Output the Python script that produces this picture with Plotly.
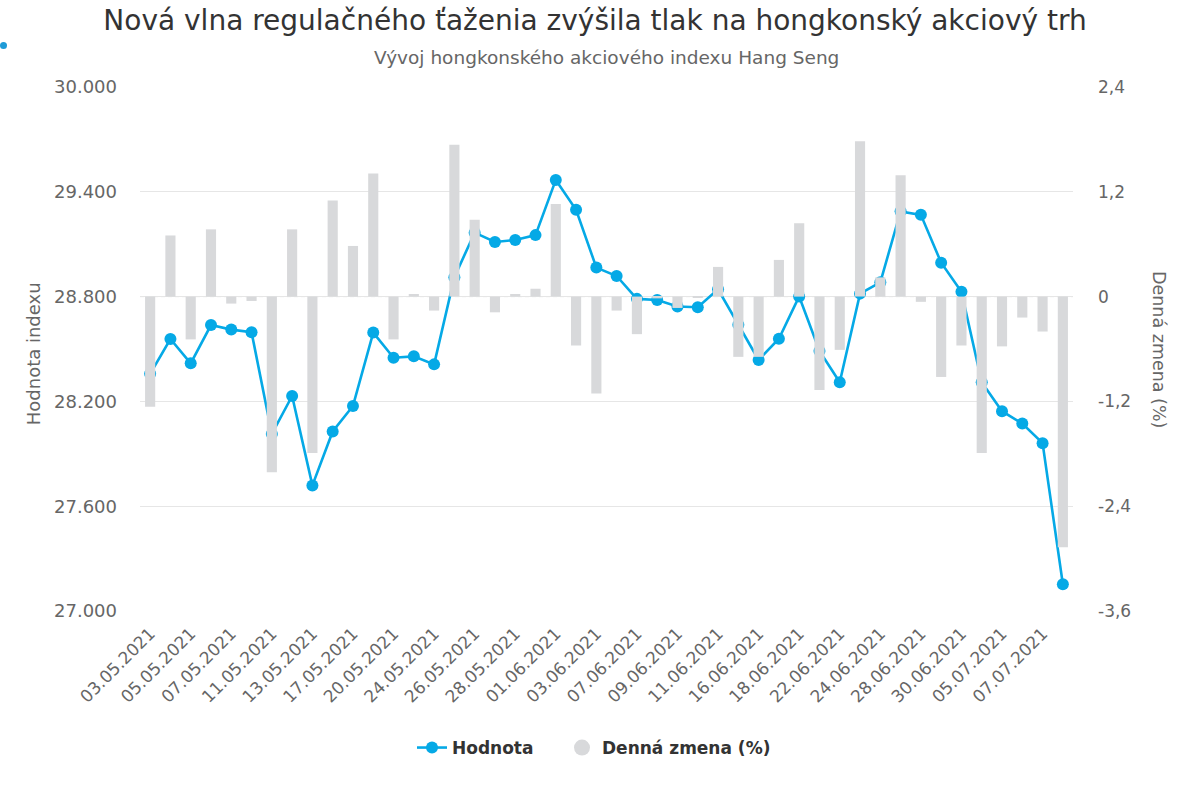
import plotly.graph_objects as go

categories = [
    "03.05.2021", "04.05.2021", "05.05.2021", "06.05.2021", "07.05.2021", "10.05.2021",
    "11.05.2021", "12.05.2021", "13.05.2021", "14.05.2021", "17.05.2021", "18.05.2021",
    "20.05.2021", "21.05.2021", "24.05.2021", "25.05.2021", "26.05.2021", "27.05.2021",
    "28.05.2021", "31.05.2021", "01.06.2021", "02.06.2021", "03.06.2021", "04.06.2021",
    "07.06.2021", "08.06.2021", "09.06.2021", "10.06.2021", "11.06.2021", "15.06.2021",
    "16.06.2021", "17.06.2021", "18.06.2021", "21.06.2021", "22.06.2021", "23.06.2021",
    "24.06.2021", "25.06.2021", "28.06.2021", "29.06.2021", "30.06.2021", "02.07.2021",
    "05.07.2021", "06.07.2021", "07.07.2021", "08.07.2021",
]

hodnota = [
    28358, 28557, 28418, 28637, 28611, 28596, 28014, 28231, 27719, 28028, 28174, 28594,
    28450, 28458, 28412, 28911, 29166, 29113, 29124, 29152, 29468, 29297, 28966, 28918,
    28787, 28781, 28743, 28739, 28842, 28639, 28437, 28559, 28801, 28489, 28310, 28817,
    28882, 29288, 29268, 28994, 28828, 28310, 28144, 28073, 27961, 27153,
]

denna_zmena = [
    -1.26, 0.70, -0.49, 0.77, -0.08, -0.05, -2.01, 0.77, -1.79, 1.10, 0.58, 1.41,
    -0.49, 0.03, -0.16, 1.74, 0.88, -0.18, 0.03, 0.09, 1.06, -0.56, -1.11, -0.16,
    -0.43, -0.02, -0.13, -0.01, 0.34, -0.69, -0.69, 0.42, 0.84, -1.07, -0.61, 1.78,
    0.22, 1.39, -0.06, -0.92, -0.56, -1.79, -0.57, -0.24, -0.40, -2.87,
]

x_tick_labels = categories[::2]

y_tickvals = [27000, 27600, 28200, 28800, 29400, 30000]
y_ticktext = ["27.000", "27.600", "28.200", "28.800", "29.400", "30.000"]

y2_tickvals = [-3.6, -2.4, -1.2, 0, 1.2, 2.4]
y2_ticktext = ["-3,6", "-2,4", "-1,2", "0", "1,2", "2,4"]

title_text = "Nová vlna regulačného ťaženia zvýšila tlak na hongkonský akciový trh"
subtitle_text = "Vývoj hongkonského akciového indexu Hang Seng"

FONT = "DejaVu Sans"
LINE_COLOR = "#05a9e6"
BAR_COLOR = "#d8d9db"

fig = go.Figure()

fig.add_trace(go.Scatter(
    x=categories, y=hodnota, name="Hodnota", mode="lines+markers",
    line=dict(color=LINE_COLOR, width=2.6),
    marker=dict(color=LINE_COLOR, size=12),
    yaxis="y", zorder=0, legend="legend",
))

fig.add_trace(go.Bar(
    x=categories, y=denna_zmena, name="Denná zmena (%)",
    marker=dict(color=BAR_COLOR, line=dict(width=0)),
    yaxis="y2", showlegend=False, zorder=5,
))

# legend entry with a circle symbol (as in the reference)
fig.add_trace(go.Scatter(
    x=[categories[0]], y=[None], name="Denná zmena (%)", mode="markers",
    marker=dict(color=BAR_COLOR, size=16, symbol="circle"),
    yaxis="y2", legend="legend2",
))

legend_font = dict(family=FONT, size=17, color="#333333", weight="bold")
legend_y = (611 - 748) / 524

fig.update_layout(
    width=1190, height=800,
    margin=dict(l=140, r=117, t=87, b=189),
    paper_bgcolor="white", plot_bgcolor="white",
    font=dict(family=FONT, color="#666666"),
    bargap=0.5,
    title=dict(
        text=title_text, x=0.5, xanchor="center", xref="container",
        y=1 - 20 / 800, yref="container", yanchor="middle",
        font=dict(family=FONT, size=28, color="#333333"),
    ),
    xaxis=dict(
        type="category", range=[-0.5, len(categories) - 0.5], autorange=False,
        tickmode="array", tickvals=x_tick_labels, ticktext=x_tick_labels,
        tickangle=-45, tickfont=dict(size=17, color="#666666"),
        showgrid=False, showline=True, linecolor="#ccd6eb", linewidth=1,
        ticks="", ticklabelstandoff=5,
    ),
    yaxis=dict(
        range=[27000, 30000], side="left",
        tickmode="array", tickvals=y_tickvals, ticktext=y_ticktext,
        tickfont=dict(size=18, color="#666666"),
        showgrid=True, gridcolor="#e6e6e6", gridwidth=1,
        zeroline=False, showline=False, ticks="", ticklabelstandoff=22,
    ),
    yaxis2=dict(
        range=[-3.6, 2.4], overlaying="y", side="right",
        tickmode="array", tickvals=y2_tickvals, ticktext=y2_ticktext,
        tickfont=dict(size=17, color="#666666"),
        showgrid=False, zeroline=False, showline=False, ticks="",
        ticklabelstandoff=24,
    ),
    legend=dict(
        orientation="h", x=(412 - 140) / 933, xanchor="left",
        y=legend_y, yanchor="middle", font=legend_font, itemwidth=30,
    ),
    legend2=dict(
        orientation="h", x=(562 - 140) / 933, xanchor="left",
        y=legend_y, yanchor="middle", font=legend_font, itemwidth=30,
    ),
    showlegend=True,
)

fig.add_annotation(
    text=subtitle_text, xref="paper", yref="paper",
    x=0.5, y=(611 - 58) / 524, xanchor="center", yanchor="middle",
    showarrow=False, font=dict(family=FONT, size=18.5, color="#666666"),
)
fig.add_annotation(
    text="Hodnota indexu", xref="paper", yref="paper",
    x=(33 - 140) / 933, y=0.49, xanchor="center", yanchor="middle",
    textangle=-90, showarrow=False, font=dict(family=FONT, size=18, color="#666666"),
)
fig.add_annotation(
    text="Denná zmena (%)", xref="paper", yref="paper",
    x=(1159 - 140) / 933, y=0.5, xanchor="center", yanchor="middle",
    textangle=90, showarrow=False, font=dict(family=FONT, size=17.5, color="#666666"),
)

# dashed zero plot line on the right axis
fig.add_shape(type="line", xref="paper", yref="y2", x0=0, x1=1, y0=0, y1=0,
              line=dict(color="white", width=1.5), layer="between")
fig.add_shape(type="line", xref="paper", yref="y2", x0=0, x1=1, y0=0, y1=0,
              line=dict(color="#d4d4d4", width=1, dash="4px,3px"), layer="between")

# small blue dot in the top-left corner
fig.add_shape(type="circle", xref="paper", yref="paper",
              x0=(0 - 140) / 933, x1=(7 - 140) / 933,
              y0=(611 - 49) / 524, y1=(611 - 42) / 524,
              fillcolor="#1e9bd7", line=dict(width=0), layer="above")

fig.write_html("out.html")
